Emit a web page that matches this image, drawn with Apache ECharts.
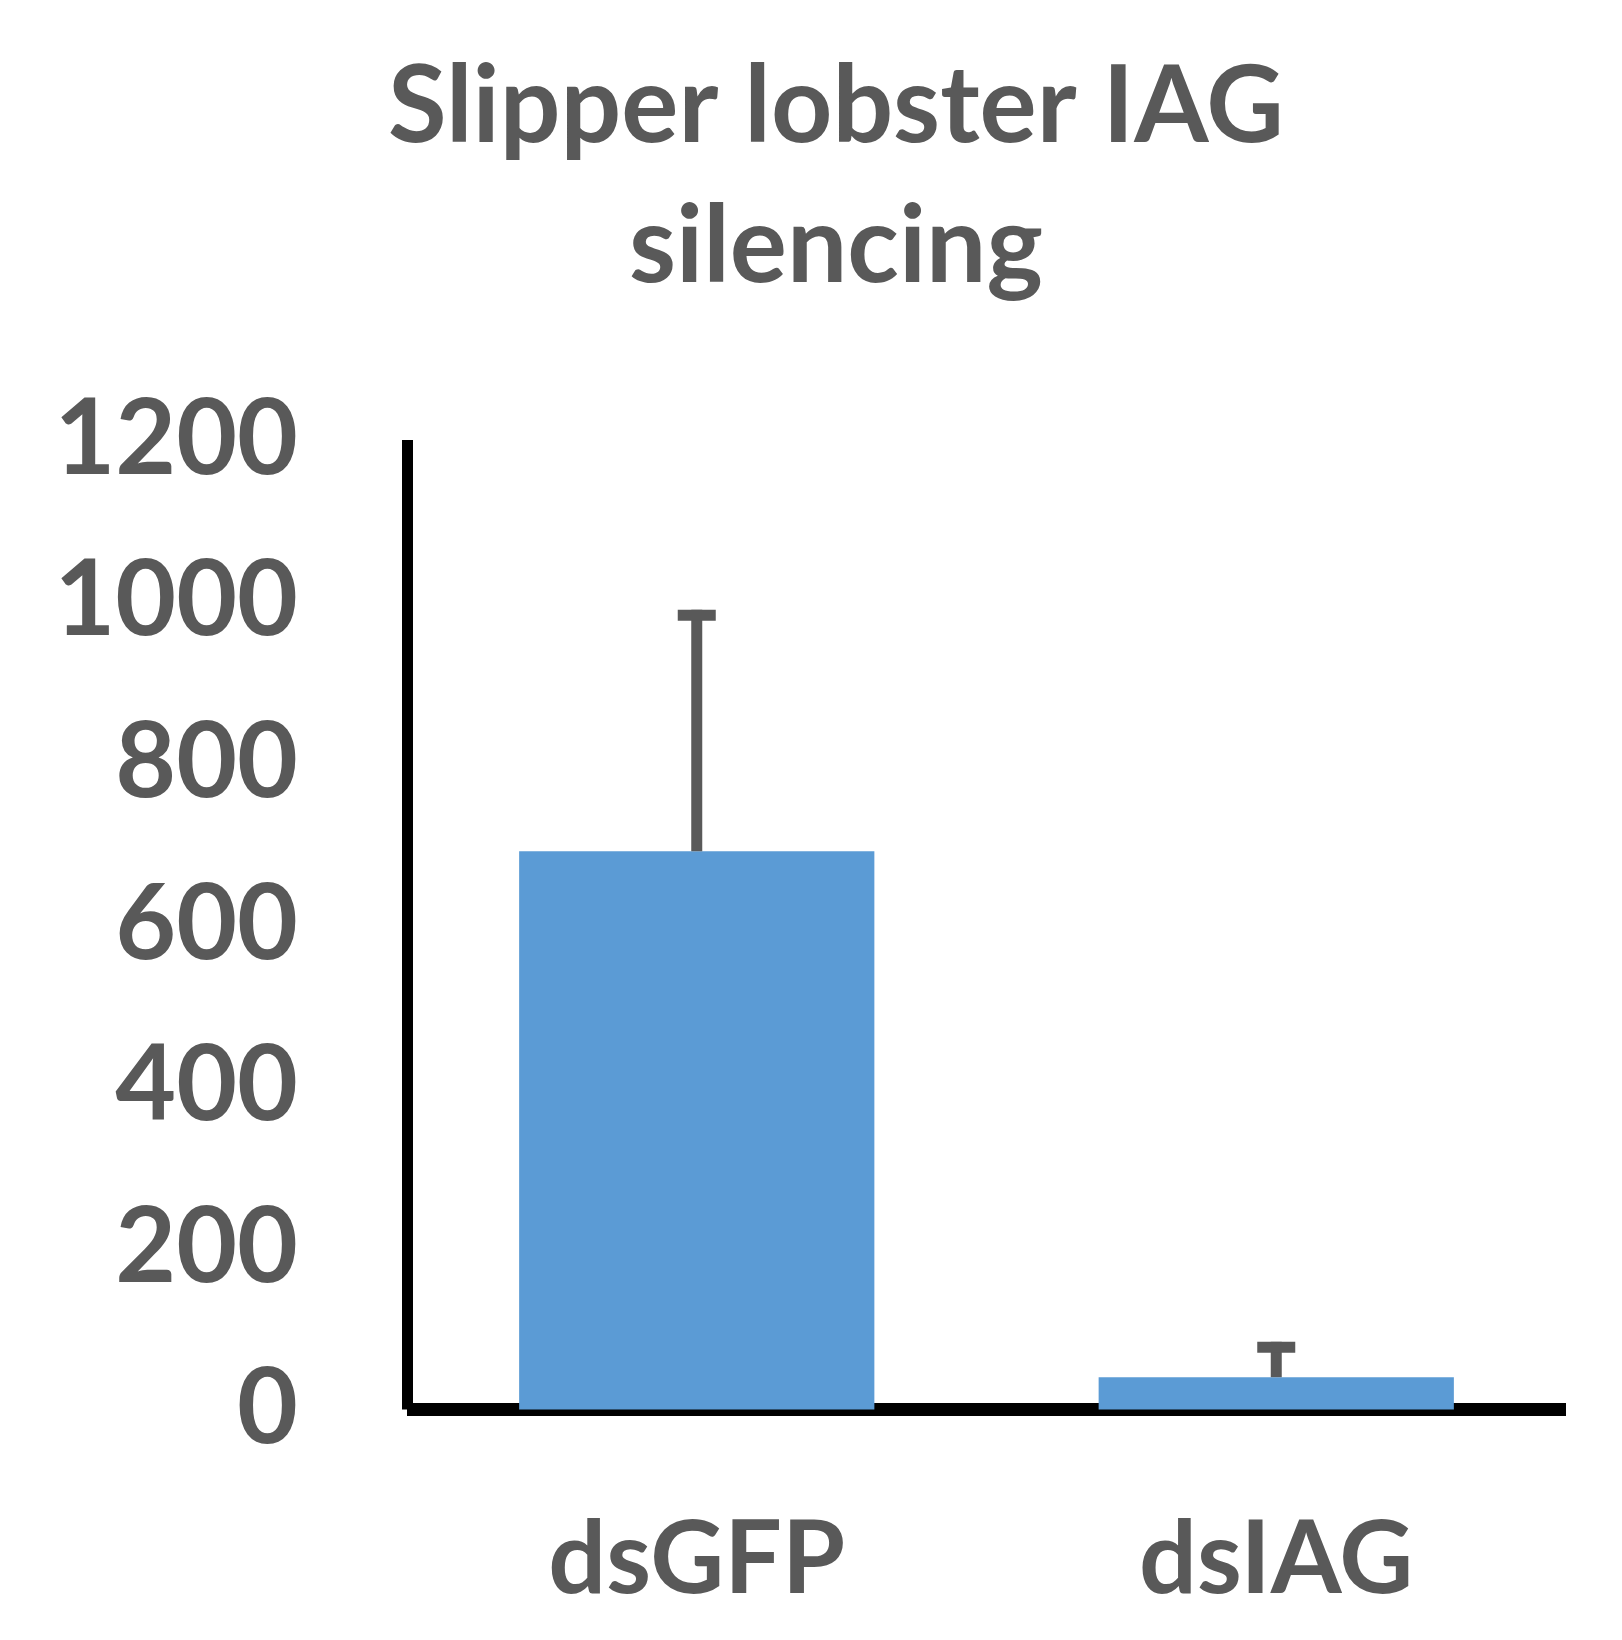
<!DOCTYPE html>
<html>
<head>
<meta charset="utf-8">
<script src="https://cdn.jsdelivr.net/npm/echarts@6/dist/echarts.min.js"></script>
<style>
html,body{margin:0;padding:0;background:#fff;}
#chart{width:1622px;height:1640px;}
</style>
</head>
<body>
<div id="chart"></div>
<script>
const titleText = 'Slipper lobster IAG\nsilencing';
const categories = ['dsGFP', 'dsIAG'];
const values = [691, 40];
const errors = [292, 37];
const yMin = 0, yMax = 1200, yStep = 200;

const textColor = '#595959';
const font = 'Lato';

const errData = categories.map((c, i) => [i, values[i], errors[i]]);

const chart = echarts.init(document.getElementById('chart'));
chart.setOption({
  backgroundColor: '#ffffff',
  animation: false,
  title: {
    text: titleText,
    left: 831,
    textAlign: 'center',
    top: 32,
    textStyle: {
      fontFamily: font, fontWeight: 'bold', fontSize: 107,
      color: textColor, lineHeight: 140
    }
  },
  grid: { left: 407, right: 56, top: 440, bottom: 230.5, containLabel: false },
  xAxis: {
    type: 'category',
    data: categories,
    axisLine: { show: true, lineStyle: { color: '#000', width: 13, cap: 'butt' } },
    axisTick: { show: false },
    axisLabel: {
      margin: 100,
      fontFamily: font, fontWeight: 'bold', fontSize: 102, color: textColor
    }
  },
  yAxis: {
    type: 'value',
    min: yMin, max: yMax, interval: yStep,
    splitLine: { show: false },
    axisLine: { show: true, lineStyle: { color: '#000', width: 11, cap: 'butt' } },
    axisTick: { show: false },
    axisLabel: {
      margin: 109,
      formatter: function (v) { return String(v); },
      fontFamily: font, fontWeight: 'bold', fontSize: 105, color: textColor
    }
  },
  series: [
    {
      type: 'bar',
      data: values,
      barCategoryGap: '38.7%',
      itemStyle: { color: '#5B9BD5' },
      z: 2
    },
    {
      type: 'custom',
      data: errData,
      z: 3,
      renderItem: function (params, api) {
        const base = api.coord([api.value(0), api.value(1)]);
        const top = api.coord([api.value(0), api.value(1) + api.value(2)]);
        const half = 19;
        const st = { stroke: '#595959', lineWidth: 11, lineCap: 'butt' };
        return {
          type: 'group',
          children: [
            { type: 'line', shape: { x1: base[0], y1: base[1], x2: base[0], y2: top[1] - 5.5 }, style: st },
            { type: 'line', shape: { x1: base[0] - half, y1: top[1], x2: base[0] + half, y2: top[1] }, style: st }
          ]
        };
      }
    }
  ]
});
</script>
</body>
</html>
